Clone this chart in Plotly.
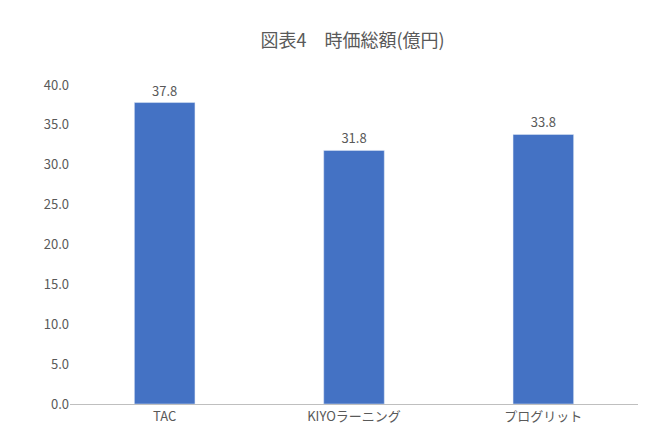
import plotly.graph_objects as go

# Data.
companies = ["TAC", "KIYOラーニング", "プログリット"]
market_cap = [37.8, 31.8, 33.8]
y_ticks = [0, 5, 10, 15, 20, 25, 30, 35, 40]

font_family = "Noto Sans CJK JP"
grey = "#595959"

fig = go.Figure()
fig.add_trace(go.Bar(
    x=companies, y=market_cap,
    marker_color="#4472C4",
    text=["{:.1f}".format(v) for v in market_cap],
    textposition="outside",
    textfont=dict(size=13, color=grey),
    cliponaxis=False,
))

fig.update_layout(
    width=650, height=448,
    margin=dict(l=62, r=20, t=77, b=52),
    paper_bgcolor="white", plot_bgcolor="white",
    font=dict(family=font_family, color=grey, size=13),
    title=dict(text="図表4　時価総額(億円)", x=0.53, xanchor="center", y=0.94,
               font=dict(size=18, color=grey)),
    bargap=0.68,
    showlegend=False,
)
fig.update_yaxes(range=[0, 40], tickvals=y_ticks, tickformat=".1f",
                 showgrid=False, zeroline=False, showline=False, ticks="")
fig.update_xaxes(showline=True, linecolor="#BFBFBF", linewidth=1, ticks="")

fig.write_html("out.html")
